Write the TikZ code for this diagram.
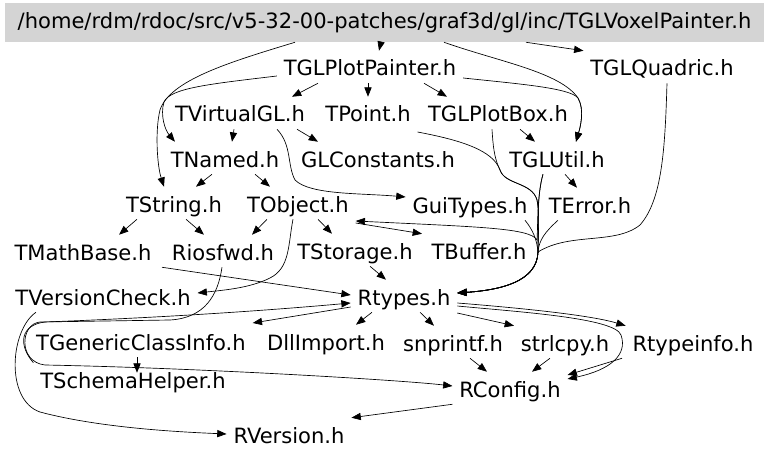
\documentclass[tikz,border=0pt]{standalone}
\usepackage{fontspec}
\setmainfont{DejaVu Sans}
\usetikzlibrary{arrows.meta, calc}

\begin{document}
\begin{tikzpicture}[x=0.75pt, y=-0.75pt,
  every node/.style={font=\fontsize{15.8}{19}\selectfont, anchor=base, inner xsep=5pt, inner ysep=0pt, text height=18.75pt, text depth=5.25pt},
  dep/.style={-{Triangle[length=7pt, width=5.4pt]}, line width=0.5pt}]
  \useasboundingbox (0,0) rectangle (768,460);
  \node (root) [fill=black!17, anchor=center, minimum width=569pt, minimum height=29.25pt, text height=11.5pt, text depth=3pt] at (384.5,22.5) {/home/rdm/rdoc/src/v5-32-00-patches/graf3d/gl/inc/TGLVoxelPainter.h};
  \node (plotpnt) at (370,76) {TGLPlotPainter.h};
  \node (quadric) at (662,76) {TGLQuadric.h};
  \node (virtgl) at (240,122) {TVirtualGL.h};
  \node (tpoint) at (368,122) {TPoint.h};
  \node (plotbox) at (498,122) {TGLPlotBox.h};
  \node (tnamed) at (225,167) {TNamed.h};
  \node (glconst) at (378,167) {GLConstants.h};
  \node (glutil) at (557,167) {TGLUtil.h};
  \node (tstring) at (174,212) {TString.h};
  \node (tobject) at (298,212) {TObject.h};
  \node (guitypes) at (470,213) {GuiTypes.h};
  \node (terror) at (590,213) {TError.h};
  \node (mathbase) at (83,260) {TMathBase.h};
  \node (riosfwd) at (223,260) {Riosfwd.h};
  \node (tstorage) at (355,259) {TStorage.h};
  \node (tbuffer) at (479,259) {TBuffer.h};
  \node (vercheck) at (103,305) {TVersionCheck.h};
  \node (rtypes) at (404,305) {Rtypes.h};
  \node (geninfo) at (141,350) {TGenericClassInfo.h};
  \node (dllimp) at (326,350) {DllImport.h};
  \node (snprintf) at (453,351) {snprintf.h};
  \node (strlcpy) at (565,351) {strlcpy.h};
  \node (rtinfo) at (693,351) {Rtypeinfo.h};
  \node (schema) at (133,388) {TSchemaHelper.h};
  \node (rconfig) at (510,397) {RConfig.h};
  \node (rversion) at (289,443) {RVersion.h};
  \coordinate (merge) at (538,252);

  % top part
  \draw[dep] (root.south -| 381,0) -- (plotpnt.north -| 379,0);
  \draw[dep] (root.south -| 526,0) -- (quadric.north west);
  \draw[dep] (root.south -| 444,0) .. controls (500,62) and (560,72) .. (578,98) .. controls (585,110) and (580,128) .. (glutil.north -| 576,0);
  \draw[dep] (plotpnt.east |- 0,78) .. controls (520,84) and (570,88) .. (578,98) .. controls (585,110) and (580,128) .. (glutil.north -| 576,0);
  \draw[dep] (root.south -| 295,0) .. controls (230,62) and (170,80) .. (160,110) .. controls (155,130) and (157,165) .. (tstring.north -| 164,0);
  \draw[dep] (plotpnt.west |- 0,76) .. controls (210,84) and (170,88) .. (164,102) .. controls (160,115) and (165,130) .. (tnamed.north -| 175,0);
  \draw[dep] (plotpnt.south -| 318,0) -- (virtgl.north -| 292,0);
  \draw[dep] (plotpnt.south -| 368,0) -- (tpoint.north);
  \draw[dep] (plotpnt.south -| 424,0) -- (plotbox.north -| 447,0);
  \draw[dep] (virtgl.south -| 234,0) -- (tnamed.north -| 232,0);
  \draw[dep] (virtgl.south -| 297,0) -- (glconst.north -| 318,0);
  \draw[dep] (virtgl.south -| 277,0) .. controls (292,145) and (287,165) .. (295,180) .. controls (310,195) and (360,193) .. (guitypes.west |- 0,197);
  \draw[dep] (plotbox.south -| 520,0) -- (glutil.north -| 535,0);
  \draw[dep] (glutil.south -| 565,0) -- (terror.north -| 577,0);

  % bundle into Rtypes.h
  \draw[dep] (tpoint.east |- 0,132) .. controls (460,140) and (493,150) .. (500,170) .. controls (505,185) and (532,182) .. (537,200) .. controls (540,215) and (538,235) .. (merge) .. controls (537,282) and (500,290) .. (rtypes.east |- 0,293);
  \draw[dep] (plotbox.south -| 492,0) .. controls (493,145) and (494,158) .. (500,170) .. controls (505,185) and (532,182) .. (537,200) .. controls (540,215) and (538,235) .. (merge) .. controls (537,282) and (500,290) .. (rtypes.east |- 0,293);
  \draw[dep] (glutil.south -| 543,0) .. controls (537,195) and (538,225) .. (merge) .. controls (537,282) and (500,290) .. (rtypes.east |- 0,293);
  \draw[dep] (terror.south -| 558,0) .. controls (545,232) and (539,240) .. (merge) .. controls (537,282) and (500,290) .. (rtypes.east |- 0,293);
  \draw[dep] (guitypes.south -| 525,0) .. controls (533,230) and (537,240) .. (merge) .. controls (537,282) and (500,290) .. (rtypes.east |- 0,293);
  \draw[dep] (quadric.south -| 667,0) .. controls (665,150) and (662,200) .. (640,225) .. controls (615,245) and (570,232) .. (merge) .. controls (537,282) and (500,290) .. (rtypes.east |- 0,293);
  \draw[dep] (glutil.south -| 543,0) .. controls (537,195) and (538,225) .. (537,240) .. controls (530,228) and (480,227) .. (tobject.east |- 0,221);

  % middle part
  \draw[dep] (tobject.east |- 0,223) -- (tbuffer.north -| 422,0);
  \draw[dep] (tnamed.south -| 212,0) -- (tstring.north -| 196,0);
  \draw[dep] (tnamed.south -| 255,0) -- (tobject.north -| 270,0);
  \draw[dep] (tstring.south -| 137,0) -- (mathbase.north -| 119,0);
  \draw[dep] (tstring.south -| 186,0) -- (riosfwd.north -| 204,0);
  \draw[dep] (tobject.south -| 267,0) -- (riosfwd.north -| 252,0);
  \draw[dep] (tobject.south -| 318,0) -- (tstorage.north -| 332,0);
  \draw[dep] (tobject.south -| 293,0) .. controls (288,245) and (290,268) .. (270,278) .. controls (250,288) and (225,290) .. (vercheck.east |- 0,293);
  \draw[dep] (tstorage.south -| 370,0) -- (rtypes.north -| 386,0);
  \draw[dep] (mathbase.south -| 162,0) -- (rtypes.west |- 0,295);

  % left loops
  \draw[dep] (riosfwd.south -| 222,0) .. controls (218,295) and (205,318) .. (170,320) -- (40,322) .. controls (20,324) and (18,362) .. (45,365) .. controls (200,368) and (400,380) .. (rconfig.west |- 0,386);
  \draw[dep] (schema.north west) .. controls (18,345) and (20,325) .. (45,322) .. controls (150,318) and (250,312) .. (rtypes.west |- 0,303);
  \draw[dep] (vercheck.south -| 36,0) .. controls (10,330) and (5,400) .. (40,412) .. controls (100,428) and (180,432) .. (rversion.west |- 0,434);
  \draw[dep] (geninfo.south -| 137,0) -- ($(schema.north -| 137,0)+(0,10)$);

  % bottom part
  \draw[dep] (rtypes.west |- 0,307) -- (geninfo.east |- 0,323);
  \draw[dep] (rtypes.south -| 372,0) -- (dllimp.north -| 356,0);
  \draw[dep] (rtypes.south -| 420,0) -- (snprintf.north -| 434,0);
  \draw[dep] (rtypes.east |- 0,313) -- (strlcpy.north -| 514,0);
  \draw[dep] (rtypes.east |- 0,303) .. controls (520,308) and (590,315) .. (rtinfo.north west);
  \draw[dep] (rtypes.east |- 0,306) .. controls (520,312) and (615,318) .. (621,335) .. controls (628,355) and (610,370) .. (rconfig.east |- 0,379);
  \draw[dep] (rtinfo.south -| 622,0) -- (rconfig.east |- 0,375);
  \draw[dep] (snprintf.south -| 470,0) -- (rconfig.north -| 487,0);
  \draw[dep] (strlcpy.south -| 550,0) -- (rconfig.north -| 532,0);
  \draw[dep] (rconfig.south west) -- (rversion.north east);
\end{tikzpicture}
\end{document}
